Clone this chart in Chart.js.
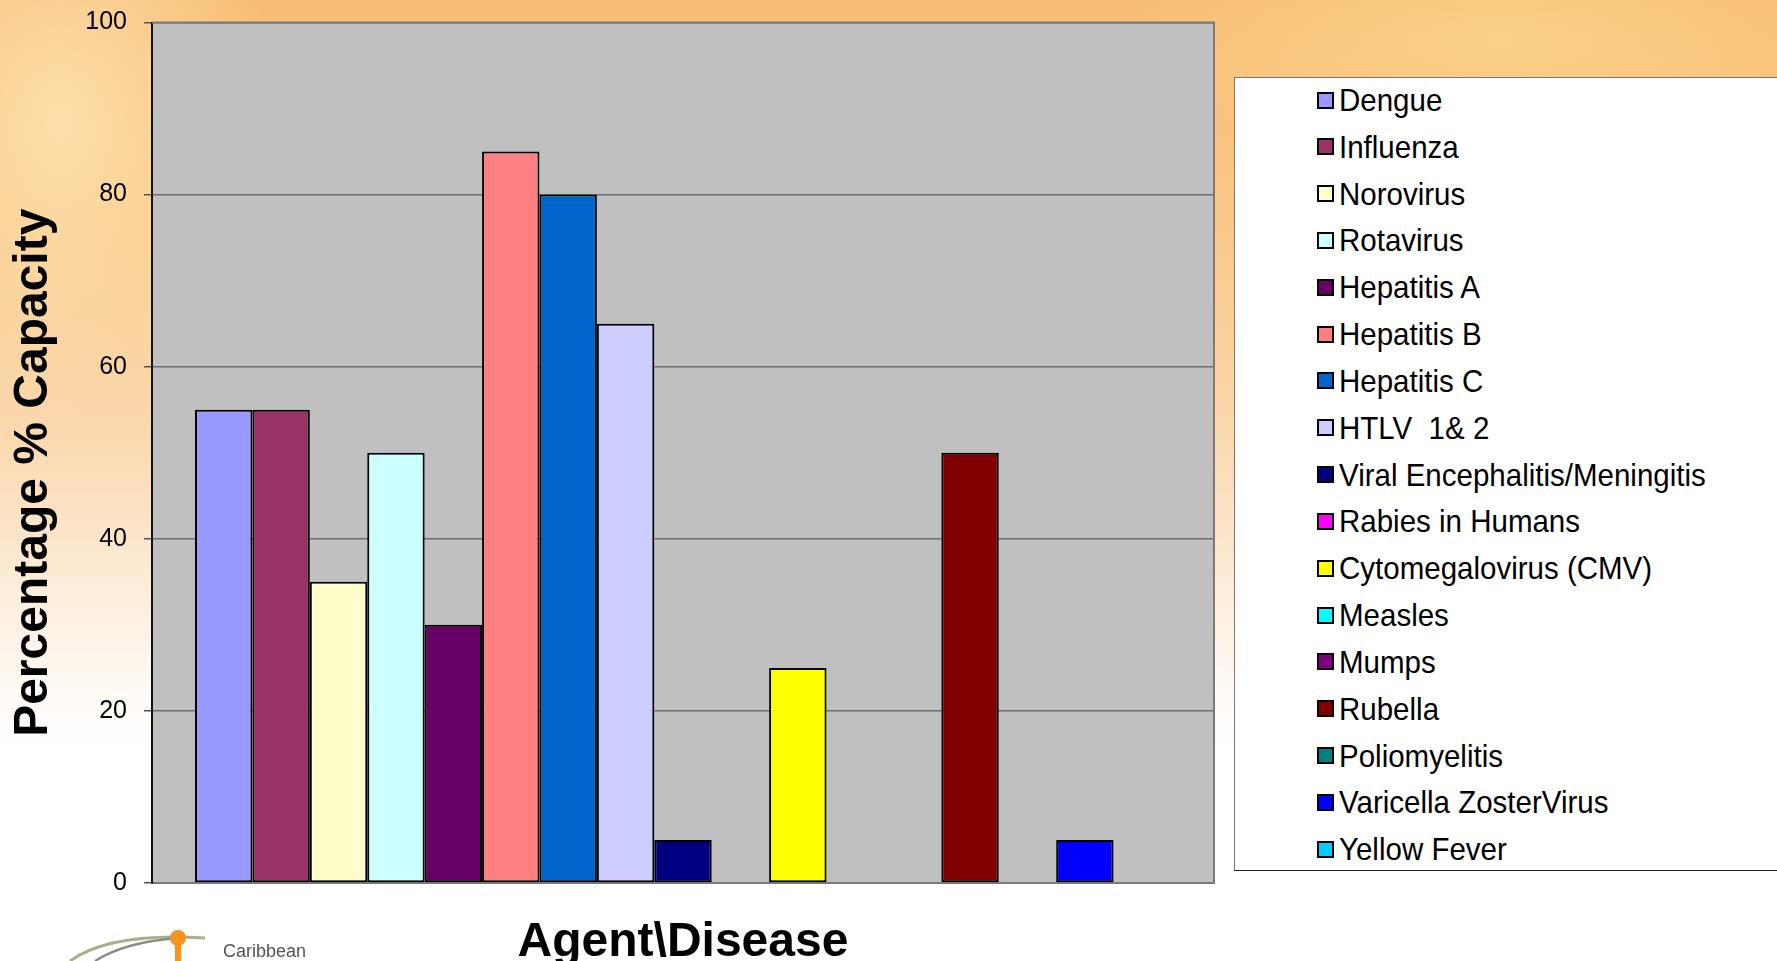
<!DOCTYPE html>
<html>
<head>
<meta charset="utf-8">
<script src="https://cdn.jsdelivr.net/npm/chart.js@4.4.1/dist/chart.umd.min.js"></script>
<style>
  html, body { margin: 0; padding: 0; }
  body {
    width: 1777px; height: 961px; overflow: hidden; position: relative;
    font-family: "Liberation Sans", Arial, sans-serif;
    background:
      radial-gradient(ellipse 220px 300px at 60px 120px, rgba(255,232,185,0.75), rgba(255,232,185,0) 100%),
      radial-gradient(ellipse 400px 120px at 1500px 40px, rgba(253,218,150,0.6), rgba(253,218,150,0) 100%),
      linear-gradient(to bottom, #F7BD74 0%, #F9C786 22%, #FBD8AE 45%, #FDEBD6 60%, #FFF8F1 70%, #FFFFFF 78%, #FFFFFF 100%);
  }
  #chartCanvas { position: absolute; left: 0; top: 0; }
  #legend {
    position: absolute; left: 1234px; top: 77px; width: 600px; height: 794px;
    background: #FFFFFF; border-left: 1.5px solid #777; border-top: 1.5px solid #777;
    border-bottom: 1.5px solid #222; box-sizing: border-box;
  }
  .lg-item {
    position: absolute; left: 82px; height: 46px; display: flex; align-items: center;
    font-size: 29.5px; color: #000; white-space: pre;
  }
  .lg-item span.t { display: inline-block; transform: scaleY(1.08); }
  .lg-box {
    width: 13px; height: 13px; border: 2px solid #000; margin-right: 5px; flex: none;
  }
  #logo { position: absolute; left: 0; top: 880px; }
  #logoText { position: absolute; left: 223px; top: 941px; font-size: 18px; color: #555; }
</style>
</head>
<body>
<canvas id="chartCanvas" width="1777" height="961"></canvas>
<div id="legend"></div>
<svg id="logo" width="260" height="81" viewBox="0 0 260 81">
  <path d="M 70 81 Q 110 52 205 58" fill="none" stroke="#A8B08A" stroke-width="3"/>
  <path d="M 95 81 Q 125 62 178 58" fill="none" stroke="#8A8A8A" stroke-width="2.5"/>
  <rect x="175" y="58" width="6" height="23" fill="#F7941E"/>
  <circle cx="178" cy="58" r="8" fill="#F7941E"/>
</svg>
<div id="logoText">Caribbean</div>
<script>
// ---- data ----
const categories = [''];
const seriesNames = [
  'Dengue', 'Influenza', 'Norovirus', 'Rotavirus', 'Hepatitis A', 'Hepatitis B',
  'Hepatitis C', 'HTLV  1& 2', 'Viral Encephalitis/Meningitis', 'Rabies in Humans',
  'Cytomegalovirus (CMV)', 'Measles', 'Mumps', 'Rubella', 'Poliomyelitis',
  'Varicella ZosterVirus', 'Yellow Fever'
];
const seriesValues = [55, 55, 35, 50, 30, 85, 80, 65, 5, 0, 25, 0, 0, 50, 0, 5, 0];
const seriesColors = [
  '#9999FF', '#993366', '#FFFFCC', '#CCFFFF', '#660066', '#FF8080',
  '#0066CC', '#CCCCFF', '#000080', '#FF00FF', '#FFFF00', '#00FFFF',
  '#800080', '#800000', '#008080', '#0000FF', '#00CCFF'
];
const yTickValues = [0, 20, 40, 60, 80, 100];
const yTitle = 'Percentage % Capacity';
const xTitle = 'Agent\\Disease';

// ---- chart ----
const datasets = seriesNames.map((name, i) => ({
  label: name,
  data: [seriesValues[i]],
  backgroundColor: seriesColors[i],
  borderColor: '#000000',
  borderWidth: ctx => (ctx.raw === 0 ? 0 : 2),
  borderSkipped: false
}));

const plotBackground = {
  id: 'plotBackground',
  beforeDraw(chart) {
    const { ctx, chartArea: a } = chart;
    ctx.save();
    ctx.fillStyle = '#C0C0C0';
    ctx.fillRect(a.left, a.top, a.right - a.left, a.bottom - a.top);
    ctx.restore();
  },
  afterDatasetsDraw(chart) {
    const { ctx, chartArea: a } = chart;
    ctx.save();
    ctx.strokeStyle = '#7A7A7A';
    ctx.lineWidth = 2;
    ctx.beginPath();
    ctx.moveTo(a.left, a.top);
    ctx.lineTo(a.right, a.top);
    ctx.lineTo(a.right, a.bottom);
    ctx.stroke();
    ctx.restore();
  }
};

const chart = new Chart(document.getElementById('chartCanvas'), {
  type: 'bar',
  data: { labels: categories, datasets },
  plugins: [plotBackground],
  options: {
    responsive: false,
    animation: false,
    layout: { padding: { top: 0, right: 563, bottom: 0, left: 0 } },
    datasets: { bar: { categoryPercentage: 0.919, barPercentage: 1.0 } },
    plugins: { legend: { display: false }, tooltip: { enabled: false } },
    scales: {
      x: {
        ticks: { display: false },
        grid: { display: false },
        border: { display: true, color: '#7A7A7A', width: 2 },
        title: {
          display: true, text: xTitle, color: '#000',
          font: { family: 'Liberation Sans', size: 48, weight: 'bold', lineHeight: 0.75 },
          padding: { top: 0, bottom: 0 }
        },
        afterFit(scale) { scale.height = 78; }
      },
      y: {
        min: yTickValues[0],
        max: yTickValues[yTickValues.length - 1],
        afterBuildTicks(scale) { scale.ticks = yTickValues.map(v => ({ value: v })); },
        ticks: {
          color: '#000', padding: 17,
          font: { family: 'Liberation Sans', size: 25 }
        },
        grid: { color: '#6E6E6E', lineWidth: 1.5, tickLength: 8, tickColor: '#555' },
        border: { display: true, color: '#111', width: 2 },
        title: {
          display: true, text: yTitle + '   ', color: '#000',
          font: { family: 'Liberation Sans', size: 48, weight: 'bold', lineHeight: 1 },
          padding: { top: 10, bottom: 0 }
        },
        afterFit(scale) {
          scale.width = 152;
          scale.paddingTop = 22.5;
          scale.paddingBottom = 0;
        }
      }
    }
  }
});

// ---- HTML legend from the chart's datasets ----
const legendEl = document.getElementById('legend');
chart.data.datasets.forEach((ds, i) => {
  const item = document.createElement('div');
  item.className = 'lg-item';
  item.style.top = (i * 46.83 - 1) + 'px';
  const box = document.createElement('span');
  box.className = 'lg-box';
  box.style.background = ds.backgroundColor;
  const txt = document.createElement('span');
  txt.className = 't';
  txt.textContent = ds.label;
  item.appendChild(box);
  item.appendChild(txt);
  legendEl.appendChild(item);
});
</script>
</body>
</html>
